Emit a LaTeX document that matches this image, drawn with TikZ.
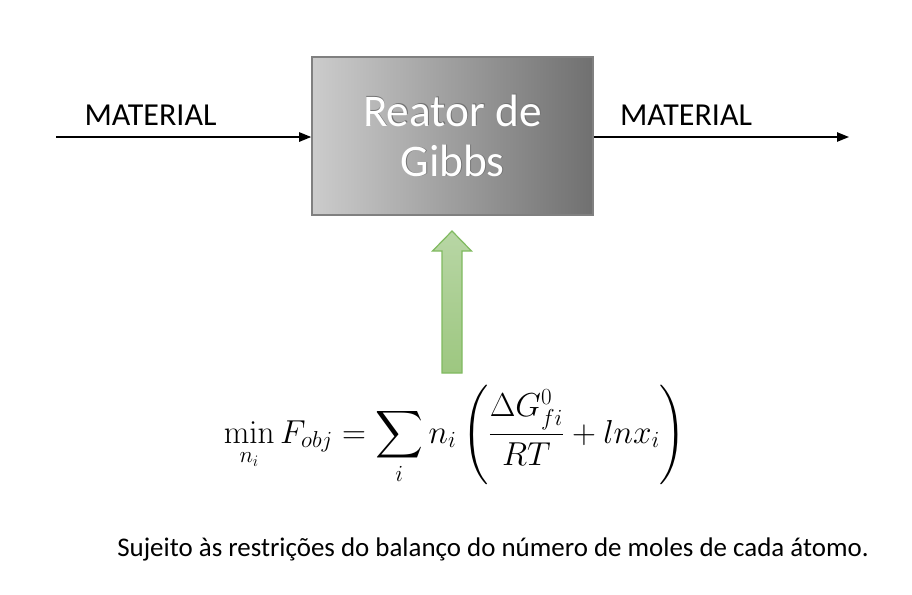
\documentclass[tikz,border=0pt]{standalone}
\usepackage{amsmath}
\usepackage[no-math]{fontspec}
\setmainfont{Carlito}
\usepackage{tikz}
\usetikzlibrary{arrows.meta}

\definecolor{boxlight}{RGB}{204,204,204}
\definecolor{boxdark}{RGB}{112,112,112}
\definecolor{boxedge}{RGB}{128,128,128}
\definecolor{upgreentop}{RGB}{184,214,165}
\definecolor{upgreenbot}{RGB}{157,199,128}
\definecolor{upgreenedge}{RGB}{128,186,96}

\tikzset{
  flow/.style={line width=1.1pt, -{Triangle[length=9pt,width=7pt]}},
  stream/.style={font=\fontsize{24}{29}\selectfont, anchor=base, inner sep=0pt},
}

\begin{document}
\begin{tikzpicture}[x=0.75pt,y=0.75pt,yscale=-1,xscale=1]
    \useasboundingbox (0,0) rectangle (912,594);

    %Shape: Reactor box
    \node [draw=boxedge, line width=1.2pt, left color=boxlight, right color=boxdark,
           minimum width=210.75pt, minimum height=118.5pt, inner sep=0pt] (reator) at (452.5,136) {};
    % shadow of the box text
    \node [text=black!55, align=center, font=\fontsize{34}{38}\selectfont, inner sep=0pt] (reatorsh) at ([xshift=0.6pt,yshift=-0.5pt]reator.center) {Reator de\\Gibbs};
    \node [text=white, align=center, font=\fontsize{34}{38}\selectfont, inner sep=0pt] (reatortxt) at (reator.center) {Reator de\\Gibbs};

    %Straight Lines: inlet and outlet
    \coordinate (inlet) at (56,137);
    \coordinate (outlet) at (849,137);
    \draw [flow] (inlet) -- (inlet -| reator.west);
    \draw [flow] (outlet -| reator.east) -- (outlet);

    % Text Node
    \node [stream] (matin) at (150.5,125) {MATERIAL};
    % Text Node
    \node [stream] (matout) at (686,125) {MATERIAL};

    %Shape: Up Arrow
    \draw [draw=upgreenedge, line width=0.9pt, top color=upgreentop, bottom color=upgreenbot]
      (452,231) -- (471.5,251) -- (462,251) -- (462,373) -- (442,373) -- (442,251) -- (432.5,251) -- cycle ;

    % Text Node
    \node [anchor=base, inner sep=0pt, font=\fontsize{23.5}{28}\selectfont] (fobj) at (455,443)
      {$\displaystyle \min_{n_i} F_{obj} = \sum_{i} n_i \left( \frac{\Delta G_{fi}^{0}}{RT} + lnx_i \right)$};
    % Text Node
    \node [anchor=base, inner sep=0pt, font=\fontsize{20.2}{24}\selectfont] (restr) at (493,556)
      {Sujeito às restrições do balanço do número de moles de cada átomo.};

\end{tikzpicture}
\end{document}
